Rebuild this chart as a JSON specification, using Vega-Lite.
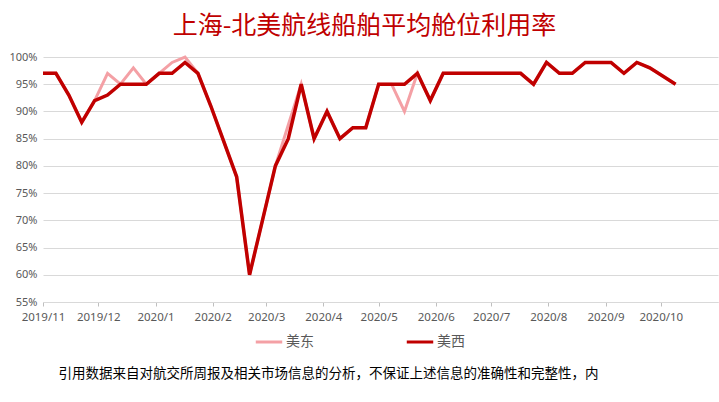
{
  "$schema": "https://vega.github.io/schema/vega-lite/v6.json",
  "width": 675,
  "height": 245,
  "autosize": {"type": "none"},
  "padding": {"left": 43, "top": 57, "right": 1, "bottom": 100},
  "background": "white",
  "title": {
    "text": "上海-北美航线船舶平均舱位利用率",
    "font": "Noto Sans CJK SC",
    "fontSize": 25,
    "fontWeight": "normal",
    "color": "#C00000",
    "anchor": "middle",
    "dx": -16,
    "offset": 12
  },
  "data": {
    "values": [
      {"date": "2019-11-01T00:00:00", "series": "美西", "value": 97},
      {"date": "2019-11-08T00:00:00", "series": "美西", "value": 97},
      {"date": "2019-11-15T00:00:00", "series": "美西", "value": 93},
      {"date": "2019-11-22T00:00:00", "series": "美西", "value": 88},
      {"date": "2019-11-29T00:00:00", "series": "美西", "value": 92},
      {"date": "2019-12-06T00:00:00", "series": "美西", "value": 93},
      {"date": "2019-12-13T00:00:00", "series": "美西", "value": 95},
      {"date": "2019-12-20T00:00:00", "series": "美西", "value": 95},
      {"date": "2019-12-27T00:00:00", "series": "美西", "value": 95},
      {"date": "2020-01-03T00:00:00", "series": "美西", "value": 97},
      {"date": "2020-01-10T00:00:00", "series": "美西", "value": 97},
      {"date": "2020-01-17T00:00:00", "series": "美西", "value": 99},
      {"date": "2020-01-24T00:00:00", "series": "美西", "value": 97},
      {"date": "2020-01-31T00:00:00", "series": "美西", "value": 91},
      {"date": "2020-02-07T00:00:00", "series": "美西", "value": 84.5},
      {"date": "2020-02-14T00:00:00", "series": "美西", "value": 78},
      {"date": "2020-02-21T00:00:00", "series": "美西", "value": 60},
      {"date": "2020-02-28T00:00:00", "series": "美西", "value": 70},
      {"date": "2020-03-06T00:00:00", "series": "美西", "value": 80},
      {"date": "2020-03-13T00:00:00", "series": "美西", "value": 85},
      {"date": "2020-03-20T00:00:00", "series": "美西", "value": 95},
      {"date": "2020-03-27T00:00:00", "series": "美西", "value": 85},
      {"date": "2020-04-03T00:00:00", "series": "美西", "value": 90},
      {"date": "2020-04-10T00:00:00", "series": "美西", "value": 85},
      {"date": "2020-04-17T00:00:00", "series": "美西", "value": 87},
      {"date": "2020-04-24T00:00:00", "series": "美西", "value": 87},
      {"date": "2020-05-01T00:00:00", "series": "美西", "value": 95},
      {"date": "2020-05-08T00:00:00", "series": "美西", "value": 95},
      {"date": "2020-05-15T00:00:00", "series": "美西", "value": 95},
      {"date": "2020-05-22T00:00:00", "series": "美西", "value": 97},
      {"date": "2020-05-29T00:00:00", "series": "美西", "value": 92},
      {"date": "2020-06-05T00:00:00", "series": "美西", "value": 97},
      {"date": "2020-06-12T00:00:00", "series": "美西", "value": 97},
      {"date": "2020-06-19T00:00:00", "series": "美西", "value": 97},
      {"date": "2020-06-26T00:00:00", "series": "美西", "value": 97},
      {"date": "2020-07-03T00:00:00", "series": "美西", "value": 97},
      {"date": "2020-07-10T00:00:00", "series": "美西", "value": 97},
      {"date": "2020-07-17T00:00:00", "series": "美西", "value": 97},
      {"date": "2020-07-24T00:00:00", "series": "美西", "value": 95},
      {"date": "2020-07-31T00:00:00", "series": "美西", "value": 99},
      {"date": "2020-08-07T00:00:00", "series": "美西", "value": 97},
      {"date": "2020-08-14T00:00:00", "series": "美西", "value": 97},
      {"date": "2020-08-21T00:00:00", "series": "美西", "value": 99},
      {"date": "2020-08-28T00:00:00", "series": "美西", "value": 99},
      {"date": "2020-09-04T00:00:00", "series": "美西", "value": 99},
      {"date": "2020-09-11T00:00:00", "series": "美西", "value": 97},
      {"date": "2020-09-18T00:00:00", "series": "美西", "value": 99},
      {"date": "2020-09-25T00:00:00", "series": "美西", "value": 98},
      {"date": "2020-10-02T00:00:00", "series": "美西", "value": 96.5},
      {"date": "2020-10-09T00:00:00", "series": "美西", "value": 95},
      {"date": "2019-11-01T00:00:00", "series": "美东", "value": 97},
      {"date": "2019-11-08T00:00:00", "series": "美东", "value": 97},
      {"date": "2019-11-15T00:00:00", "series": "美东", "value": 93},
      {"date": "2019-11-22T00:00:00", "series": "美东", "value": 88},
      {"date": "2019-11-29T00:00:00", "series": "美东", "value": 92},
      {"date": "2019-12-06T00:00:00", "series": "美东", "value": 97},
      {"date": "2019-12-13T00:00:00", "series": "美东", "value": 95},
      {"date": "2019-12-20T00:00:00", "series": "美东", "value": 98},
      {"date": "2019-12-27T00:00:00", "series": "美东", "value": 95},
      {"date": "2020-01-03T00:00:00", "series": "美东", "value": 97},
      {"date": "2020-01-10T00:00:00", "series": "美东", "value": 99},
      {"date": "2020-01-17T00:00:00", "series": "美东", "value": 100},
      {"date": "2020-01-24T00:00:00", "series": "美东", "value": 97},
      {"date": "2020-01-31T00:00:00", "series": "美东", "value": 91},
      {"date": "2020-02-07T00:00:00", "series": "美东", "value": 84.5},
      {"date": "2020-02-14T00:00:00", "series": "美东", "value": 78},
      {"date": "2020-02-21T00:00:00", "series": "美东", "value": 60},
      {"date": "2020-02-28T00:00:00", "series": "美东", "value": 70},
      {"date": "2020-03-06T00:00:00", "series": "美东", "value": 80},
      {"date": "2020-03-13T00:00:00", "series": "美东", "value": 87.5},
      {"date": "2020-03-20T00:00:00", "series": "美东", "value": 95},
      {"date": "2020-03-27T00:00:00", "series": "美东", "value": 85},
      {"date": "2020-04-03T00:00:00", "series": "美东", "value": 90},
      {"date": "2020-04-10T00:00:00", "series": "美东", "value": 85},
      {"date": "2020-04-17T00:00:00", "series": "美东", "value": 87},
      {"date": "2020-04-24T00:00:00", "series": "美东", "value": 87},
      {"date": "2020-05-01T00:00:00", "series": "美东", "value": 95},
      {"date": "2020-05-08T00:00:00", "series": "美东", "value": 95},
      {"date": "2020-05-15T00:00:00", "series": "美东", "value": 90},
      {"date": "2020-05-22T00:00:00", "series": "美东", "value": 97},
      {"date": "2020-05-29T00:00:00", "series": "美东", "value": 92},
      {"date": "2020-06-05T00:00:00", "series": "美东", "value": 97},
      {"date": "2020-06-12T00:00:00", "series": "美东", "value": 97},
      {"date": "2020-06-19T00:00:00", "series": "美东", "value": 97},
      {"date": "2020-06-26T00:00:00", "series": "美东", "value": 97},
      {"date": "2020-07-03T00:00:00", "series": "美东", "value": 97},
      {"date": "2020-07-10T00:00:00", "series": "美东", "value": 97},
      {"date": "2020-07-17T00:00:00", "series": "美东", "value": 97},
      {"date": "2020-07-24T00:00:00", "series": "美东", "value": 95},
      {"date": "2020-07-31T00:00:00", "series": "美东", "value": 99},
      {"date": "2020-08-07T00:00:00", "series": "美东", "value": 97},
      {"date": "2020-08-14T00:00:00", "series": "美东", "value": 97},
      {"date": "2020-08-21T00:00:00", "series": "美东", "value": 99},
      {"date": "2020-08-28T00:00:00", "series": "美东", "value": 99},
      {"date": "2020-09-04T00:00:00", "series": "美东", "value": 99},
      {"date": "2020-09-11T00:00:00", "series": "美东", "value": 97},
      {"date": "2020-09-18T00:00:00", "series": "美东", "value": 99},
      {"date": "2020-09-25T00:00:00", "series": "美东", "value": 98},
      {"date": "2020-10-02T00:00:00", "series": "美东", "value": 96.5},
      {"date": "2020-10-09T00:00:00", "series": "美东", "value": 95}
    ]
  },
  "encoding": {
    "x": {
      "field": "date",
      "type": "temporal",
      "scale": {
        "domain": [
          {"year": 2019, "month": 11, "date": 1},
          {"year": 2020, "month": 11, "date": 1}
        ]
      },
      "axis": {
        "values": [
          {"year": 2019, "month": 11, "date": 1},
          {"year": 2019, "month": 12, "date": 1},
          {"year": 2020, "month": 1, "date": 1},
          {"year": 2020, "month": 2, "date": 1},
          {"year": 2020, "month": 3, "date": 1},
          {"year": 2020, "month": 4, "date": 1},
          {"year": 2020, "month": 5, "date": 1},
          {"year": 2020, "month": 6, "date": 1},
          {"year": 2020, "month": 7, "date": 1},
          {"year": 2020, "month": 8, "date": 1},
          {"year": 2020, "month": 9, "date": 1},
          {"year": 2020, "month": 10, "date": 1}
        ],
        "format": "%Y/%-m",
        "grid": false,
        "domainColor": "#D9D9D9",
        "tickColor": "#BFBFBF",
        "tickSize": 4,
        "labelPadding": 5,
        "labelFontSize": 11.5,
        "labelColor": "#595959",
        "labelFont": "Noto Sans",
        "labelFlush": false,
        "title": "引用数据来自对航交所周报及相关市场信息的分析，不保证上述信息的准确性和完整性，内",
        "titleFont": "Noto Sans CJK SC",
        "titleFontSize": 13.5,
        "titleFontWeight": "normal",
        "titleColor": "#000000",
        "titleAlign": "left",
        "titleAnchor": "start",
        "titleX": 15,
        "titleY": 71,
        "titleBaseline": "middle"
      }
    },
    "y": {
      "field": "value",
      "type": "quantitative",
      "scale": {"domain": [55, 100]},
      "axis": {
        "values": [55, 60, 65, 70, 75, 80, 85, 90, 95, 100],
        "labelExpr": "datum.value + '%'",
        "ticks": false,
        "domain": false,
        "gridColor": "#D9D9D9",
        "labelPadding": 6,
        "labelFontSize": 11,
        "labelColor": "#595959",
        "labelFont": "Noto Sans",
        "title": null
      }
    },
    "color": {
      "field": "series",
      "type": "nominal",
      "scale": {"domain": ["美东", "美西"], "range": ["#F4A0A5", "#C00000"]},
      "legend": {
        "title": null,
        "orient": "none",
        "direction": "horizontal",
        "legendX": 211,
        "legendY": 270,
        "symbolType": "stroke",
        "symbolSize": 700,
        "symbolStrokeWidth": 3,
        "labelFont": "Noto Sans CJK SC",
        "labelFontSize": 14,
        "labelColor": "#595959",
        "labelOffset": 2,
        "columnPadding": 86
      }
    }
  },
  "layer": [
    {
      "transform": [{"filter": "datum.series === '美东'"}],
      "mark": {"type": "line", "strokeWidth": 3}
    },
    {
      "transform": [{"filter": "datum.series === '美西'"}],
      "mark": {"type": "line", "strokeWidth": 3.5}
    }
  ],
  "config": {
    "view": {"stroke": null}
  }
}
